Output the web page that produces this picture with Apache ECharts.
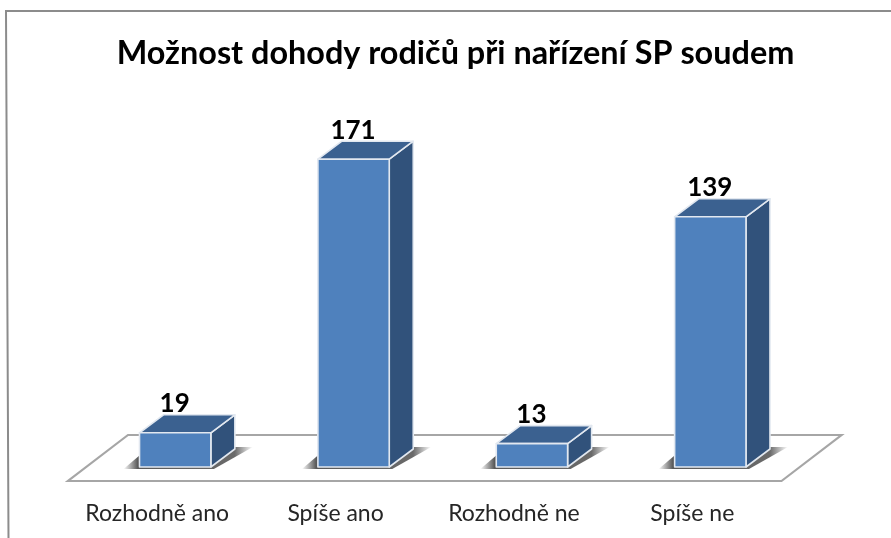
<!DOCTYPE html>
<html><head><meta charset="utf-8">
<style>html,body{margin:0;padding:0;background:#fff}#c{width:891px;height:538px;filter:blur(0.45px)}</style>
<script src="https://cdn.jsdelivr.net/npm/echarts@6/dist/echarts.min.js"></script>
</head><body><div id="c"></div>
<script>
const categories = ['Rozhodně ano', 'Spíše ano', 'Rozhodně ne', 'Spíše ne'];
const values = [19, 171, 13, 139];
const chartTitle = 'Možnost dohody rodičů při nařízení SP soudem';

const FRONT = '#4F81BD', SIDE = '#31527B', TOP = '#3B6190', EDGE = '#E2E8F0', FLOOR = '#A6A6A6';
const floorDX = 60, floorDY = 46, barDX = 24, barDY = 18, offX = 18, offY = 14;

const chart = echarts.init(document.getElementById('c'), null, {renderer: 'canvas'});

function renderFloor(params, api) {
  const c = params.coordSys, b = c.y + c.height, l = c.x, r = c.x + c.width;
  return {type: 'polygon', silent: true,
    shape: {points: [[l, b], [r, b], [r + floorDX, b - floorDY], [l + floorDX, b - floorDY]]},
    style: {fill: '#fff', stroke: FLOOR, lineWidth: 2.2}};
}

function renderBar(params, api) {
  const i = api.value(0), v = api.value(1);
  const w = api.size([1, 0])[0] * 0.4;
  const top = api.coord([i, v]), base = api.coord([i, 0]);
  const x0 = top[0] - w / 2 + offX, x1 = x0 + w;
  const y0 = base[1] - offY, y1 = top[1] - offY;
  const edge = {stroke: EDGE, lineWidth: 1.6, lineJoin: 'round'};
  return {type: 'group', children: [
    {type: 'polygon', silent: true,
      shape: {points: [[x0 - 16, y0 + 2], [x1 + 3, y0 + 2], [x1 + barDX + 18, y0 - barDY - 2], [x0 + 10, y0 - barDY - 2]]},
      style: {fill: {type: 'linear', x: 0, y: 0, x2: 1, y2: 0, colorStops: [
        {offset: 0, color: 'rgba(80,80,80,0)'},
        {offset: 0.11, color: 'rgba(80,80,80,0.95)'},
        {offset: 0.86, color: 'rgba(80,80,80,0.85)'},
        {offset: 1, color: 'rgba(80,80,80,0)'}]}}},
    {type: 'polygon', shape: {points: [[x1, y0], [x1 + barDX, y0 - barDY], [x1 + barDX, y1 - barDY], [x1, y1]]},
      style: Object.assign({fill: SIDE}, edge)},
    {type: 'polygon', shape: {points: [[x0, y1], [x1, y1], [x1 + barDX, y1 - barDY], [x0 + barDX, y1 - barDY]]},
      style: Object.assign({fill: TOP}, edge)},
    {type: 'rect', shape: {x: x0, y: y1, width: w, height: y0 - y1},
      style: Object.assign({fill: FRONT}, edge)},
    {type: 'text', silent: true,
      style: {text: String(v), x: x0 + w / 2 - 0.5, y: y1 - 29, align: 'center', verticalAlign: 'middle',
        font: 'bold 26px Lato', fill: '#000'}}
  ]};
}

chart.setOption({
  animation: false,
  backgroundColor: '#fff',
  title: {text: chartTitle, left: 450.5, top: 33, textAlign: 'center',
    textStyle: {fontFamily: 'Lato', fontWeight: 'bold', fontSize: 32.4, color: '#000'}},
  grid: {left: 68, right: 109.5, bottom: 57, top: 157},
  xAxis: {type: 'category', data: categories,
    axisLine: {show: false}, axisTick: {show: false},
    axisLabel: {interval: 0, margin: 21, fontFamily: 'Lato', fontSize: 23, color: '#262626'}},
  yAxis: {type: 'value', min: 0, max: 180, show: false, splitLine: {show: false}},
  graphic: [{type: 'polyline', silent: true, shape: {points: [[8.5, 538], [6, 11], [891, 11]]},
    style: {fill: 'none', stroke: '#8C8C8C', lineWidth: 2}}],
  series: [
    {type: 'custom', z: 1, clip: false, silent: true, renderItem: renderFloor, data: [[0, 0]], encode: {x: 0, y: 1}},
    {type: 'custom', z: 2, clip: false, silent: true, renderItem: renderBar,
      data: values.map((v, i) => [i, v]), encode: {x: 0, y: 1}}
  ]
});
</script></body></html>
